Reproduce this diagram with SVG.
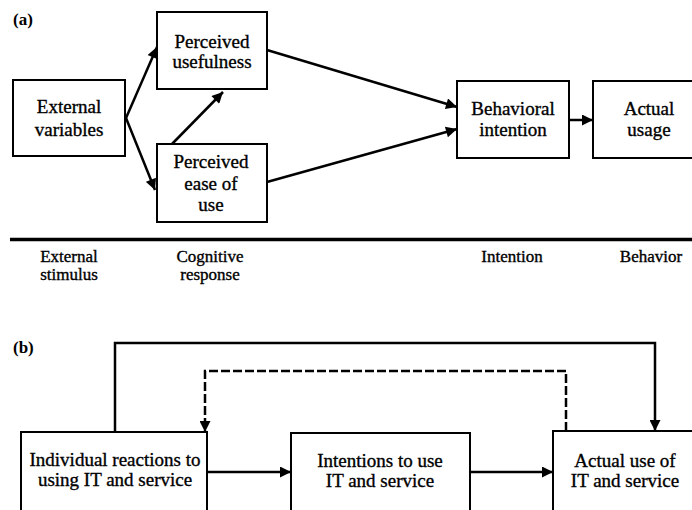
<svg xmlns="http://www.w3.org/2000/svg" width="692" height="510" viewBox="0 0 692 510">
<style>
.box{fill:#fff;stroke:#000;stroke-width:2}
text{font-family:'Liberation Serif','Times New Roman',serif;fill:#000;stroke:#000;stroke-width:0.35}
.t{font-size:19px;text-anchor:middle}
.s{font-size:17px;text-anchor:middle}
.lbl{font-size:17px;font-weight:bold;stroke-width:0}
.c{fill:none;stroke:#000;stroke-width:2.5}
.d{fill:none;stroke:#000;stroke-width:2.5;stroke-dasharray:9 3}
</style>
<defs>
<marker id="ah" viewBox="0 0 10 10" refX="10" refY="5" markerWidth="5" markerHeight="4.4" markerUnits="strokeWidth" orient="auto">
<path d="M0,0 L10,5 L0,10 z" fill="#000"/>
</marker>
</defs>
<rect width="692" height="510" fill="#fff"/>
<text class="lbl" x="13" y="25">(a)</text>
<text class="lbl" x="13" y="353">(b)</text>

<g id="ev"><rect class="box" x="13" y="80" width="112" height="76"/><text class="t" x="69" y="113">External</text><text class="t" x="69" y="136">variables</text></g>
<g id="pu"><rect class="box" x="157" y="12" width="110" height="77"/><text class="t" x="212" y="48">Perceived</text><text class="t" x="212" y="68">usefulness</text></g>
<g id="peou"><rect class="box" x="157" y="144" width="110" height="78"/><text class="t" x="211" y="168">Perceived</text><text class="t" x="211" y="190">ease of</text><text class="t" x="211" y="211">use</text></g>
<g id="bi"><rect class="box" x="457" y="81" width="112" height="77"/><text class="t" x="513" y="115">Behavioral</text><text class="t" x="513" y="136">intention</text></g>
<g id="au"><rect class="box" x="593" y="81" width="120" height="77"/><text class="t" x="649" y="115">Actual</text><text class="t" x="649" y="136">usage</text></g>

<g id="stages">
<line x1="10" y1="239.5" x2="692" y2="239.5" stroke="#000" stroke-width="3.5"/>
<text class="s" x="69" y="262">External</text><text class="s" x="69" y="280">stimulus</text>
<text class="s" x="210" y="262">Cognitive</text><text class="s" x="210" y="280">response</text>
<text class="s" x="512" y="262">Intention</text>
<text class="s" x="651" y="262">Behavior</text>
</g>

<g id="ir"><rect class="box" x="21" y="432" width="186" height="100"/><text class="t" x="115" y="466">Individual reactions to</text><text class="t" x="115" y="486">using IT and service</text></g>
<g id="iu"><rect class="box" x="291" y="433" width="179" height="100"/><text class="t" x="380" y="467">Intentions to use</text><text class="t" x="380" y="487">IT and service</text></g>
<g id="aui"><rect class="box" x="553" y="431" width="160" height="100"/><text class="t" x="625" y="467">Actual use of</text><text class="t" x="625" y="487">IT and service</text></g>

<g id="connectors">
<line class="c" x1="126" y1="118" x2="157" y2="47" marker-end="url(#ah)"/>
<line class="c" x1="126" y1="118" x2="155" y2="190" marker-end="url(#ah)"/>
<line class="c" x1="172" y1="144" x2="223" y2="92" marker-end="url(#ah)"/>
<line class="c" x1="267" y1="50" x2="457" y2="107" marker-end="url(#ah)"/>
<line class="c" x1="267" y1="182" x2="457" y2="129" marker-end="url(#ah)"/>
<line class="c" x1="569" y1="120" x2="593" y2="120" marker-end="url(#ah)"/>
<line class="c" x1="207" y1="472" x2="291" y2="472" marker-end="url(#ah)"/>
<line class="c" x1="470" y1="472" x2="553" y2="472" marker-end="url(#ah)"/>
<polyline class="c" points="115,432 115,343 655,343 655,431" marker-end="url(#ah)"/>
<polyline class="d" points="566,431 566,371 205,371 205,432" marker-end="url(#ah)"/>
</g>
</svg>
